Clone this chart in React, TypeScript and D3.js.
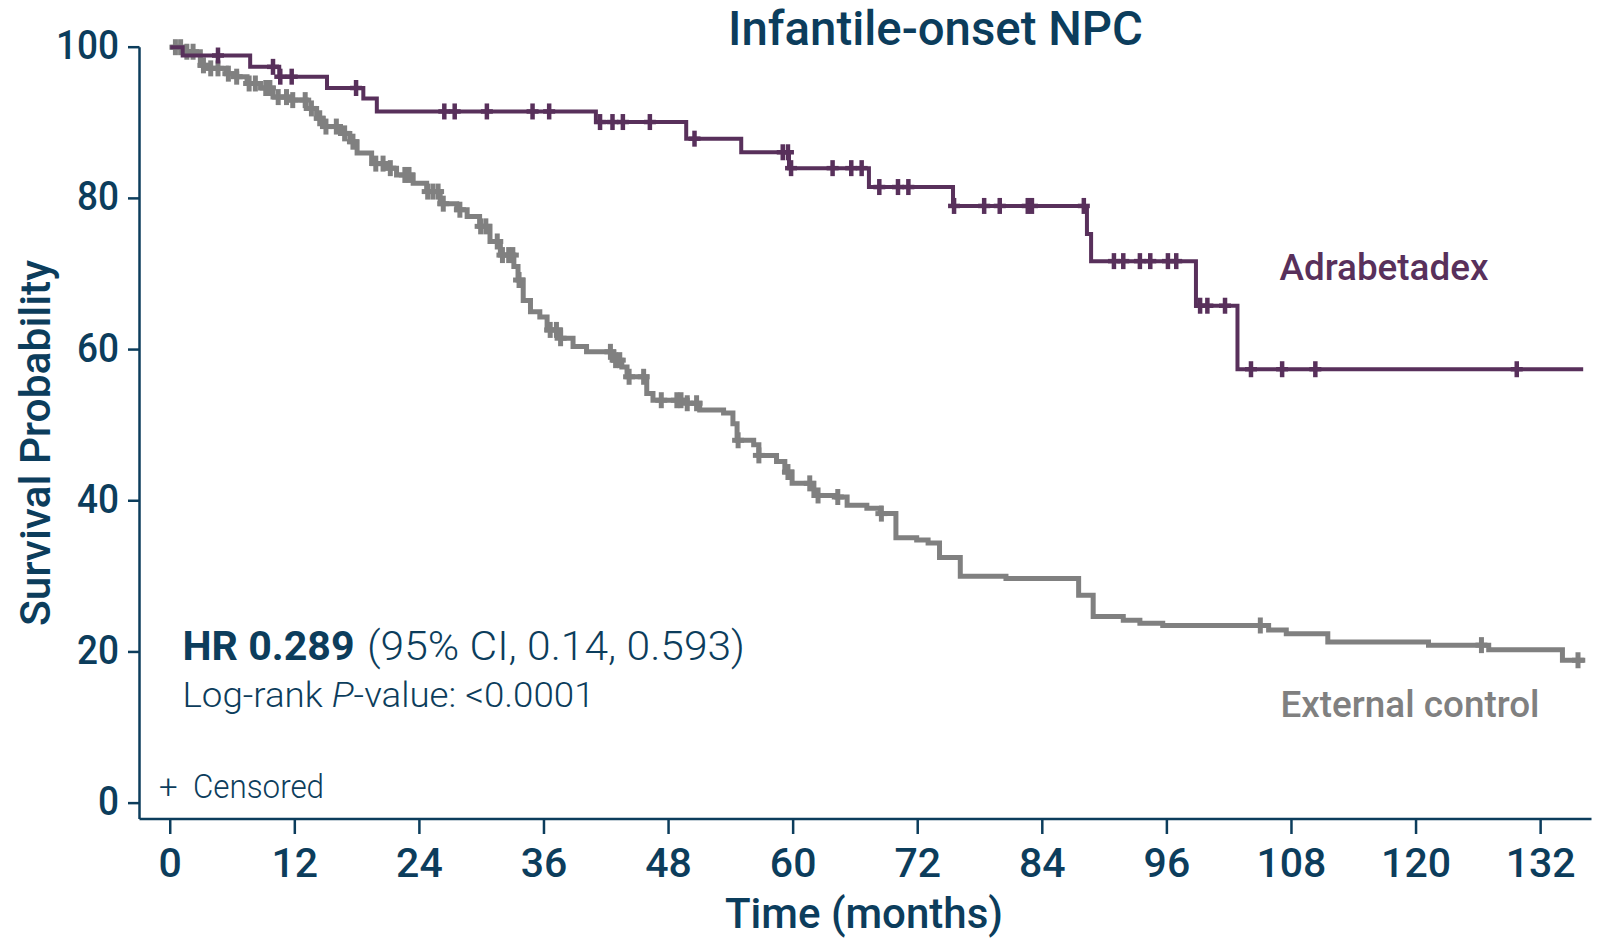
import React from "react";
import * as d3 from "d3";

// ---- Kaplan–Meier step data (time in months, survival in %) ----
const adraTimes = [0, 1.2, 7.7, 10.5, 15.1, 18.6, 19.9, 41.0, 49.7, 55.0, 59.6, 67.3, 75.4, 88.3, 88.7, 98.8, 102.8];
const adraSurv = [100, 98.9, 97.4, 96.1, 94.6, 93.2, 91.5, 90.1, 87.9, 86.1, 84.0, 81.5, 79.0, 75.3, 71.7, 65.8, 57.4];
const adraEnd = 136.1;
const adraCensored = [
  4.6, 9.9, 10.6, 11.7, 17.9, 26.4, 27.4, 30.5, 34.9, 36.5, 41.4, 42.6, 43.6, 46.2, 50.5,
  59.0, 59.5, 59.8, 63.8, 65.6, 66.6, 68.3, 70.1, 71.1, 75.5, 78.4, 79.9, 82.6, 83.0, 88.0,
  90.9, 91.8, 93.4, 94.4, 96.1, 96.9, 99.2, 99.9, 101.6, 104.1, 107.1, 110.3, 129.7,
];

const ctrlTimes = [
  0, 1.3, 2.9, 3.7, 5.4, 6.4, 7.4, 8.7, 9.9, 11.5, 13.1, 14.1, 14.7, 16.4, 17.3, 18.0, 19.4,
  20.9, 21.8, 23.4, 24.7, 26.0, 27.6, 28.6, 29.8, 30.8, 31.8, 33.1, 33.5, 34.0, 34.7, 35.6,
  36.3, 37.6, 38.8, 40.1, 42.7, 43.5, 44.0, 45.9, 46.5, 49.8, 51.0, 53.3, 54.2, 54.6, 56.2,
  56.7, 58.4, 59.2, 59.9, 62.0, 64.2, 65.2, 67.1, 68.4, 69.9, 71.9, 73.0, 74.1, 76.1, 80.5,
  87.5, 88.9, 91.8, 93.4, 95.6, 105.8, 107.5, 111.5, 121.2, 127.0, 134.1,
];
const ctrlSurv = [
  100, 99.4, 97.6, 97.2, 96.5, 96.1, 95.2, 94.6, 93.4, 93.0, 91.9, 90.6, 89.5, 88.6, 87.5, 86.0, 84.6,
  84.0, 83.1, 82.0, 80.9, 79.3, 78.5, 77.6, 76.3, 74.3, 72.5, 71.0, 69.2, 66.5, 65.0, 64.3,
  62.6, 61.5, 60.4, 59.7, 58.6, 57.7, 56.4, 54.2, 53.3, 52.9, 52.0, 51.6, 50.2, 48.0, 47.4,
  46.0, 45.2, 43.8, 42.3, 40.7, 40.5, 39.4, 39.0, 38.3, 35.1, 34.8, 34.4, 32.5, 30.0, 29.7,
  27.5, 24.7, 24.2, 23.8, 23.5, 22.9, 22.4, 21.3, 20.9, 20.3, 18.9,
];
const ctrlEnd = 136.3;
const ctrlCensored = [
  0.5, 1.0, 1.6, 2.2, 3.2, 3.9, 4.6, 5.6, 6.4, 7.6, 8.2, 9.2, 9.6, 10.4, 11.2, 11.8, 13.0,
  13.6, 14.4, 15.0, 16.0, 16.8, 17.6, 19.8, 20.5, 21.2, 22.6, 23.0, 24.8, 25.3, 25.8, 26.3,
  27.9, 29.9, 30.4, 31.5, 32.0, 32.6, 33.0, 33.6, 36.6, 37.2, 37.6, 42.4, 42.9, 43.3, 44.2,
  45.6, 47.3, 48.8, 49.2, 49.8, 50.7, 54.7, 56.7, 59.5, 61.6, 62.4, 64.3, 68.5, 105.0,
  126.3, 135.6,
];

const yTicks = [0, 20, 40, 60, 80, 100];
const xTicks = [0, 12, 24, 36, 48, 60, 72, 84, 96, 108, 120, 132];

const NAVY = "#0c3d5c";
const PURPLE = "#58305b";
const GREY = "#808080";
const FONT = "Roboto, 'Noto Sans', sans-serif";

const W = 1608;
const H = 938;

const x = d3.scaleLinear().domain([-2.96, 136.9]).range([139.5, 1591.5]);
const y = d3.scaleLinear().domain([-2.1, 100]).range([819, 47.2]);

type Pt = [number, number];

function stepPoints(times: number[], surv: number[], end: number): Pt[] {
  const pts: Pt[] = times.map((t, i) => [t, surv[i]] as Pt);
  pts.push([end, surv[surv.length - 1]]);
  return pts;
}

function survAt(times: number[], surv: number[], t: number): number {
  const i = d3.bisectRight(times, t) - 1;
  return surv[Math.max(0, i)];
}

const stepLine = d3
  .line<Pt>()
  .x((d) => x(d[0]))
  .y((d) => y(d[1]))
  .curve(d3.curveStepAfter);

function Curve({
  times,
  surv,
  end,
  censored,
  color,
  width,
  markWidth,
}: {
  times: number[];
  surv: number[];
  end: number;
  censored: number[];
  color: string;
  width: number;
  markWidth: number;
}) {
  return (
    <g>
      <path d={stepLine(stepPoints(times, surv, end)) || ""} fill="none" stroke={color} strokeWidth={width} />
      {censored.map((t, i) => {
        const cx = x(t);
        const cy = y(survAt(times, surv, t));
        return (
          <g key={i} stroke={color} strokeWidth={markWidth}>
            <line x1={cx} x2={cx} y1={cy - 8} y2={cy + 8} />
            <line x1={cx - 6} x2={cx + 6} y1={cy} y2={cy} />
          </g>
        );
      })}
    </g>
  );
}

export default function App() {
  return (
    <svg
      width={W}
      height={H}
      viewBox={`0 0 ${W} ${H}`}
      style={{ position: "absolute", left: 0, top: 0, background: "#fff" }}
      fontFamily={FONT}
    >
      <rect x={0} y={0} width={W} height={H} fill="#fff" />

      {/* title */}
      <text x={935.5} y={45} textAnchor="middle" fontSize={48} fontWeight={500} fill={NAVY} textLength={415} lengthAdjust="spacingAndGlyphs">
        Infantile-onset NPC
      </text>

      {/* y axis */}
      <line x1={139.5} x2={139.5} y1={y(100)} y2={819} stroke={NAVY} strokeWidth={2.5} />
      {yTicks.map((v) => (
        <g key={v}>
          <line x1={128} x2={139.5} y1={y(v)} y2={y(v)} stroke={NAVY} strokeWidth={2.5} />
          <text
            x={119}
            y={y(v) + 12}
            textAnchor="end"
            fontSize={40}
            fontWeight={500}
            fill={NAVY}
            textLength={String(v).length * 21}
            lengthAdjust="spacingAndGlyphs"
          >
            {v}
          </text>
        </g>
      ))}
      <text
        transform={`translate(50,${443}) rotate(-90)`}
        textAnchor="middle"
        fontSize={42}
        fontWeight={500}
        fill={NAVY}
        textLength={366}
        lengthAdjust="spacingAndGlyphs"
      >
        Survival Probability
      </text>

      {/* x axis */}
      <line x1={139.5} x2={1591.5} y1={819} y2={819} stroke={NAVY} strokeWidth={2.5} />
      {xTicks.map((v) => (
        <g key={v}>
          <line x1={x(v)} x2={x(v)} y1={820} y2={834} stroke={NAVY} strokeWidth={2.5} />
          <text x={x(v)} y={877} textAnchor="middle" fontSize={41} fontWeight={500} fill={NAVY}>
            {v}
          </text>
        </g>
      ))}
      <text x={864} y={928} textAnchor="middle" fontSize={42} fontWeight={500} fill={NAVY} textLength={278} lengthAdjust="spacingAndGlyphs">
        Time (months)
      </text>

      {/* survival curves */}
      <Curve times={ctrlTimes} surv={ctrlSurv} end={ctrlEnd} censored={ctrlCensored} color={GREY} width={5} markWidth={5} />
      <Curve times={adraTimes} surv={adraSurv} end={adraEnd} censored={adraCensored} color={PURPLE} width={4} markWidth={4.5} />

      {/* series labels */}
      <text x={1279.5} y={279.5} fontSize={37.5} fontWeight={500} fill={PURPLE} textLength={209} lengthAdjust="spacingAndGlyphs">
        Adrabetadex
      </text>
      <text x={1280.5} y={716.5} fontSize={37.5} fontWeight={500} fill={GREY} textLength={259} lengthAdjust="spacingAndGlyphs">
        External control
      </text>

      {/* statistics */}
      <text x={182.5} y={660} fontSize={40} fontWeight={700} fill={NAVY} textLength={172} lengthAdjust="spacingAndGlyphs">
        HR 0.289
      </text>
      <text x={367} y={660} fontSize={40} fontWeight={300} fill={NAVY} textLength={378} lengthAdjust="spacingAndGlyphs">
        (95% CI, 0.14, 0.593)
      </text>
      <text x={182.5} y={707} fontSize={35} fontWeight={300} fill={NAVY} textLength={412} lengthAdjust="spacingAndGlyphs">
        Log-rank <tspan fontStyle="italic">P</tspan>-value: &lt;0.0001
      </text>
      <text x={159} y={798} fontSize={33} fontWeight={300} fill={NAVY}>
        +
      </text>
      <text x={193} y={798} fontSize={33} fontWeight={300} fill={NAVY} textLength={131} lengthAdjust="spacingAndGlyphs">
        Censored
      </text>
    </svg>
  );
}
